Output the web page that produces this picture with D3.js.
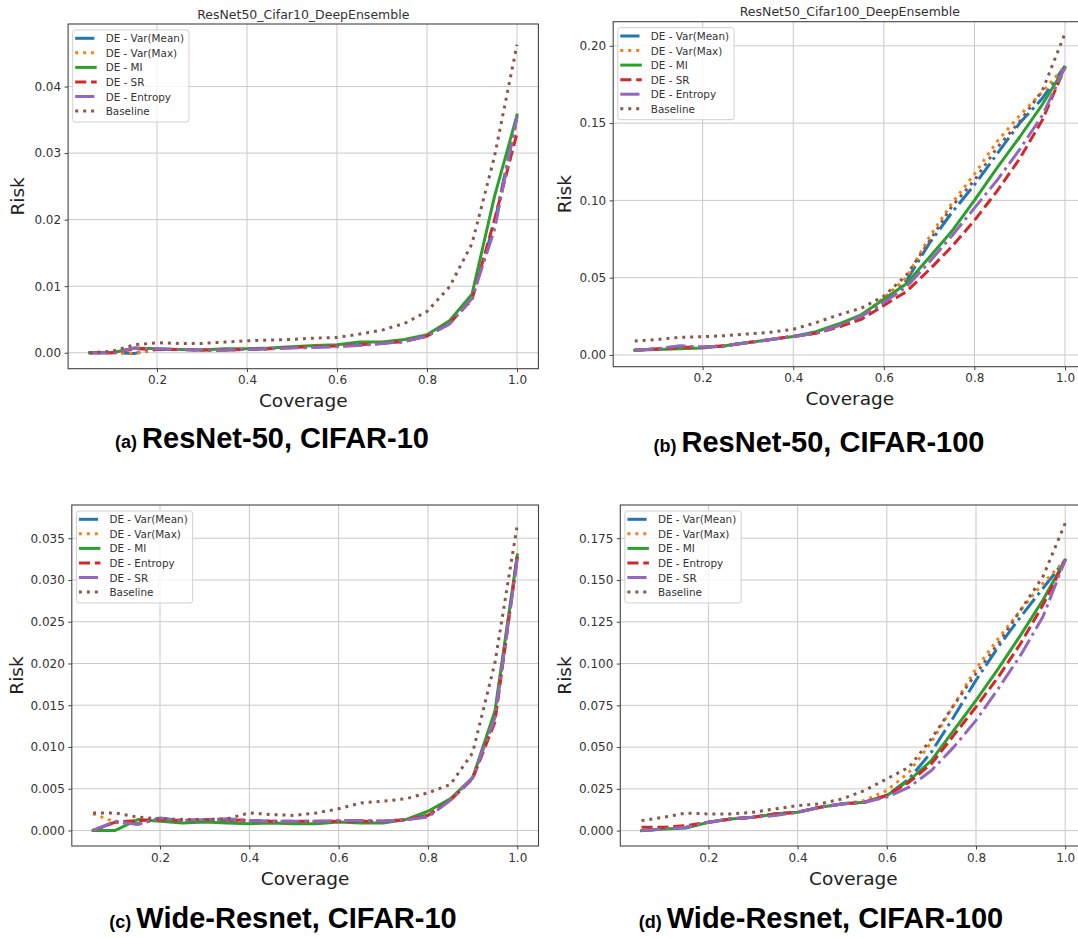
<!DOCTYPE html>
<html><head><meta charset="utf-8">
<script src="https://cdn.jsdelivr.net/npm/d3@7"></script>
<style>
body{margin:0;background:#fff}
svg{display:block}
text{font-family:"DejaVu Sans",sans-serif}
</style>
</head><body>
<svg id="chart" width="1078" height="938"></svg>
<script>
// ---------------- DATA ----------------
const coverage = [0.05,0.10,0.15,0.20,0.25,0.30,0.35,0.40,0.45,0.50,0.55,0.60,0.65,0.70,0.75,0.80,0.85,0.90,0.95,1.00];
const xTicks = [0.2,0.4,0.6,0.8,1.0];

const labelsTop = ["DE - Var(Mean)","DE - Var(Max)","DE - MI","DE - SR","DE - Entropy","Baseline"];
const labelsBottom = ["DE - Var(Mean)","DE - Var(Max)","DE - MI","DE - Entropy","DE - SR","Baseline"];

// (a) ResNet-50, CIFAR-10
const aVarMean  = [0,0,-0.0001,0.0005,0.0005,0.0004,0.0004,0.0005,0.0006,0.0008,0.0009,0.0010,0.0012,0.0014,0.0017,0.0025,0.0045,0.0082,0.0195,0.0355];
const aVarMax   = [0,0,-0.0001,0.0005,0.0005,0.0004,0.0004,0.0005,0.0006,0.0008,0.0009,0.0010,0.0012,0.0014,0.0017,0.0025,0.0045,0.0080,0.0195,0.0350];
const aMI       = [0,0,0.0007,0.0006,0.0005,0.0004,0.0006,0.0006,0.0007,0.0009,0.0011,0.0012,0.0016,0.0016,0.0020,0.0027,0.0048,0.0088,0.0235,0.0357];
const aSR       = [0,0,0.0006,0.0005,0.0005,0.0004,0.0004,0.0005,0.0006,0.0008,0.0009,0.0010,0.0012,0.0014,0.0017,0.0025,0.0044,0.0080,0.0200,0.0330];
const aEntropy  = [0,0,0.0007,0.0006,0.0005,0.0004,0.0004,0.0005,0.0006,0.0007,0.0008,0.0009,0.0011,0.0014,0.0017,0.0025,0.0043,0.0082,0.0185,0.0355];
const aBaseline = [0,0.0002,0.0012,0.0015,0.0014,0.0014,0.0016,0.0018,0.0019,0.0020,0.0022,0.0023,0.0028,0.0034,0.0044,0.0062,0.0099,0.0164,0.0295,0.0463];
const aTicksY = [0,0.01,0.02,0.03,0.04];

// (b) ResNet-50, CIFAR-100
const bVarMean  = [0.003,0.004,0.005,0.005,0.006,0.008,0.010,0.012,0.014,0.019,0.025,0.034,0.048,0.072,0.092,0.110,0.130,0.150,0.166,0.187];
const bVarMax   = [0.003,0.004,0.005,0.005,0.006,0.008,0.010,0.012,0.014,0.019,0.025,0.037,0.050,0.076,0.098,0.117,0.138,0.155,0.170,0.187];
const bMI       = [0.003,0.0035,0.004,0.0045,0.006,0.008,0.010,0.012,0.015,0.020,0.026,0.036,0.046,0.063,0.080,0.100,0.121,0.141,0.162,0.186];
const bSR       = [0.003,0.004,0.005,0.005,0.006,0.008,0.010,0.012,0.014,0.018,0.023,0.032,0.041,0.055,0.070,0.087,0.106,0.127,0.152,0.186];
const bEntropy  = [0.003,0.004,0.006,0.005,0.006,0.008,0.010,0.012,0.014,0.019,0.025,0.034,0.044,0.060,0.077,0.095,0.113,0.133,0.155,0.186];
const bBaseline = [0.009,0.010,0.0114,0.0118,0.0125,0.0136,0.0147,0.0166,0.0209,0.0259,0.0302,0.038,0.0517,0.0733,0.096,0.113,0.134,0.151,0.171,0.208];
const bTicksY = [0,0.05,0.10,0.15,0.20];

// (c) Wide-Resnet, CIFAR-10
const cVarMean  = [0,0.0010,0.0008,0.0014,0.0012,0.0012,0.0012,0.0011,0.0011,0.0010,0.0010,0.0011,0.0011,0.0011,0.0013,0.0018,0.0037,0.0063,0.0138,0.0328];
const cVarMax   = [0.0020,0.0010,0.0008,0.0014,0.0012,0.0012,0.0012,0.0011,0.0011,0.0010,0.0010,0.0011,0.0011,0.0011,0.0013,0.0018,0.0037,0.0063,0.0138,0.0328];
const cMI       = [0,0,0.0013,0.0011,0.0009,0.0010,0.0009,0.0008,0.0009,0.0008,0.0008,0.0010,0.0009,0.0009,0.0013,0.0023,0.0038,0.0063,0.0143,0.0330];
const cEntropy  = [0,0.0010,0.0012,0.0013,0.0012,0.0013,0.0013,0.0012,0.0011,0.0011,0.0011,0.0011,0.0011,0.0011,0.0013,0.0018,0.0036,0.0062,0.0130,0.0328];
const cSR       = [0,0.0011,0.0007,0.0015,0.0012,0.0013,0.0014,0.0012,0.0011,0.0011,0.0011,0.0012,0.0012,0.0011,0.0013,0.0016,0.0036,0.0063,0.0135,0.0325];
const cBaseline = [0.0021,0.0021,0.0016,0.0014,0.0013,0.0013,0.0014,0.0021,0.0019,0.0018,0.0021,0.0026,0.0033,0.0035,0.0038,0.0045,0.0055,0.0093,0.0201,0.0366];
const cTicksY = [0,0.005,0.010,0.015,0.020,0.025,0.030,0.035];

// (d) Wide-Resnet, CIFAR-100
const dVarMean  = [0,0.001,0.002,0.005,0.007,0.008,0.010,0.011,0.014,0.016,0.017,0.021,0.031,0.047,0.068,0.090,0.110,0.128,0.145,0.162];
const dVarMax   = [0,0.001,0.002,0.005,0.007,0.008,0.010,0.011,0.014,0.016,0.018,0.024,0.035,0.053,0.075,0.097,0.115,0.132,0.148,0.162];
const dMI       = [0,0.001,0.0015,0.005,0.007,0.008,0.010,0.011,0.014,0.016,0.017,0.021,0.030,0.042,0.060,0.078,0.097,0.117,0.138,0.162];
const dEntropy  = [0.002,0.002,0.003,0.005,0.007,0.008,0.010,0.011,0.014,0.016,0.017,0.021,0.029,0.040,0.057,0.074,0.092,0.112,0.135,0.162];
const dSR       = [0,0.001,0.002,0.005,0.007,0.008,0.009,0.011,0.014,0.016,0.017,0.020,0.026,0.036,0.050,0.066,0.085,0.105,0.128,0.162];
const dBaseline = [0.006,0.008,0.0105,0.010,0.010,0.011,0.013,0.015,0.016,0.019,0.024,0.031,0.038,0.055,0.075,0.094,0.112,0.132,0.152,0.184];
const dTicksY = [0,0.025,0.050,0.075,0.100,0.125,0.150,0.175];

// ---------------- STYLE / LAYOUT ----------------
const colors = ["#1f77b4","#ff7f0e","#2ca02c","#d62728","#9467bd","#8c564b"];
const LW = 3;
const dashes = [[6.4,1.6,1,1.6],[1,1.65],null,[3.7,1.6],[6.4,1.6,1,1.6],[1,1.65]].map(d => d ? d.map(v => v*LW).join(",") : null);

const panels = [
  {id:"a", title:"ResNet50_Cifar10_DeepEnsemble", titleY:14, series:[aVarMean,aVarMax,aMI,aSR,aEntropy,aBaseline], labels:labelsTop,
   xr:[68.1,538.4], yr:[368.7,24], xd:[0.0025,1.0475], yd:[-0.0024,0.0494], yt:aTicksY, fmt:".2f", xlabY:400, ylabX:17,
   cap:["(a) ","ResNet-50, CIFAR-10"], capX:272, capY:448},
  {id:"b", title:"ResNet50_Cifar100_DeepEnsemble", titleY:11, series:[bVarMean,bVarMax,bMI,bSR,bEntropy,bBaseline], labels:labelsTop,
   xr:[613.2,1086.5], yr:[366.7,21.7], xd:[0.0025,1.0475], yd:[-0.0076,0.2156], yt:bTicksY, fmt:".2f", xlabY:398, ylabX:564,
   cap:["(b) ","ResNet-50, CIFAR-100"], capX:819, capY:452},
  {id:"c", title:null, series:[cVarMean,cVarMax,cMI,cEntropy,cSR,cBaseline], labels:labelsBottom,
   xr:[71.8,538.5], yr:[846,505], xd:[0.0025,1.0475], yd:[-0.00186,0.03898], yt:cTicksY, fmt:".3f", xlabY:878, ylabX:16,
   cap:["(c) ","Wide-Resnet, CIFAR-10"], capX:283, capY:928},
  {id:"d", title:null, series:[dVarMean,dVarMax,dMI,dEntropy,dSR,dBaseline], labels:labelsBottom,
   xr:[620.3,1086.4], yr:[846,505], xd:[0.0025,1.0475], yd:[-0.0092,0.1949], yt:dTicksY, fmt:".3f", xlabY:878, ylabX:564,
   cap:["(d) ","Wide-Resnet, CIFAR-100"], capX:821, capY:928}
];

const svg = d3.select("#chart");
svg.append("rect").attr("width",1078).attr("height",938).attr("fill","#fff");

panels.forEach(p => {
  const x = d3.scaleLinear().domain(p.xd).range(p.xr);
  const y = d3.scaleLinear().domain(p.yd).range(p.yr);
  const L = p.xr[0], R = p.xr[1], T = p.yr[1], B = p.yr[0];
  const g = svg.append("g");

  // grid
  g.append("g").selectAll("line").data(xTicks).join("line")
    .attr("x1",d=>x(d)).attr("x2",d=>x(d)).attr("y1",T).attr("y2",B)
    .attr("stroke","#c9c9c9").attr("stroke-width",1);
  g.append("g").selectAll("line").data(p.yt).join("line")
    .attr("x1",L).attr("x2",R).attr("y1",d=>y(d)).attr("y2",d=>y(d))
    .attr("stroke","#c9c9c9").attr("stroke-width",1);

  // clip
  const cid = "clip-"+p.id;
  svg.append("clipPath").attr("id",cid).append("rect")
    .attr("x",L).attr("y",T).attr("width",R-L).attr("height",B-T);

  const line = d3.line().x((d,i)=>x(coverage[i])).y(d=>y(d));
  const lg = g.append("g").attr("clip-path",`url(#${cid})`);
  p.series.forEach((s,k) => {
    lg.append("path").attr("d",line(s)).attr("fill","none")
      .attr("stroke",colors[k]).attr("stroke-width",LW)
      .attr("stroke-linejoin","round")
      .attr("stroke-linecap", dashes[k] ? "butt" : "square")
      .attr("stroke-dasharray",dashes[k]);
  });

  // axes
  const ax = g.append("g").attr("transform",`translate(0,${B})`)
    .call(d3.axisBottom(x).tickValues(xTicks).tickFormat(d3.format(".1f")).tickSize(3.5).tickPadding(3.5).tickSizeOuter(0));
  const ay = g.append("g").attr("transform",`translate(${L},0)`)
    .call(d3.axisLeft(y).tickValues(p.yt).tickFormat(d3.format(p.fmt)).tickSize(3.5).tickPadding(3.5).tickSizeOuter(0));
  [ax,ay].forEach(a => {
    a.select(".domain").remove();
    a.selectAll("text").attr("font-family","DejaVu Sans").attr("font-size",12).attr("fill","#333");
    a.selectAll("line").attr("stroke","#444");
  });
  // spines
  g.append("rect").attr("x",L).attr("y",T).attr("width",R-L).attr("height",B-T)
    .attr("fill","none").attr("stroke","#444").attr("stroke-width",1.1);

  // labels
  if (p.title) g.append("text").attr("x",(L+R)/2).attr("y",p.titleY).attr("text-anchor","middle")
    .attr("dominant-baseline","central").attr("font-size",12.5).attr("fill","#333").text(p.title);
  g.append("text").attr("x",(L+R)/2).attr("y",p.xlabY).attr("text-anchor","middle")
    .attr("dominant-baseline","central").attr("font-size",18.5).attr("fill","#222").text("Coverage");
  g.append("text").attr("transform",`translate(${p.ylabX},${(T+B)/2}) rotate(-90)`).attr("text-anchor","middle")
    .attr("dominant-baseline","central").attr("font-size",18.5).attr("fill","#222").text("Risk");

  // legend
  const leg = g.append("g").attr("transform",`translate(${L+4.6},${T+6})`);
  const box = leg.append("rect").attr("rx",2.5).attr("fill","#fff").attr("fill-opacity",0.8)
    .attr("stroke","#d0d0d0").attr("stroke-width",1);
  let maxW = 0;
  p.labels.forEach((lab,k) => {
    const yy = 8.3 + k*14.55;
    leg.append("line").attr("x1",2.5).attr("x2",24).attr("y1",yy).attr("y2",yy)
      .attr("stroke",colors[k]).attr("stroke-width",LW)
      .attr("stroke-dasharray",dashes[k]).attr("stroke-linecap","butt");
    const t = leg.append("text").attr("x",33).attr("y",yy).attr("dominant-baseline","central")
      .attr("font-size",10.4).attr("fill","#333").text(lab);
    maxW = Math.max(maxW, t.node().getComputedTextLength());
  });
  box.attr("x",0).attr("y",0).attr("width",33+maxW+5).attr("height",92);

  // caption
  const cap = svg.append("text").attr("x",p.capX).attr("y",p.capY).attr("text-anchor","middle")
    .attr("font-family","Liberation Sans, Arial, sans-serif").attr("font-weight","bold").attr("fill","#000");
  cap.append("tspan").attr("font-size",18).attr("font-family","Liberation Sans").text(p.cap[0]);
  cap.append("tspan").attr("font-size",29).attr("font-family","Liberation Sans").text(p.cap[1]);
});
</script>
</body></html>
